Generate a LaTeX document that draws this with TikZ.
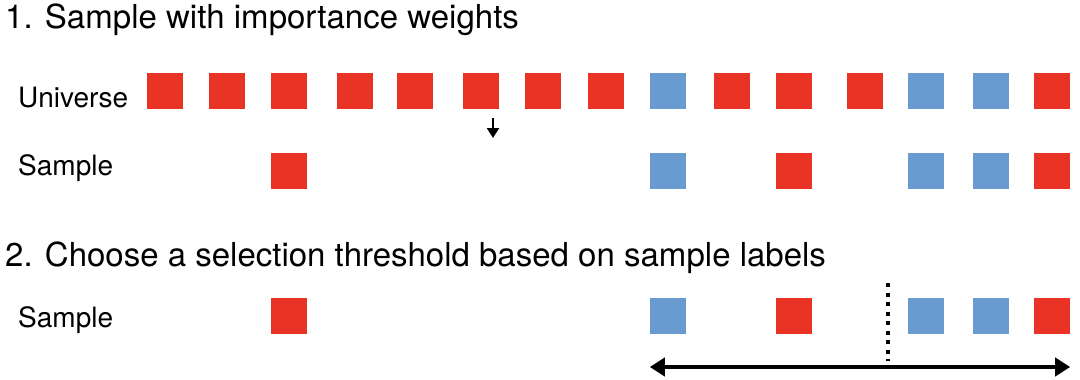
\documentclass[tikz,border=0pt]{standalone}
\usepackage{fontspec}
\setmainfont{TeX Gyre Heros}
\usepackage{xcolor}
\usepackage{tikz}
\usetikzlibrary{arrows.meta,positioning}

\definecolor{boxred}{RGB}{233,51,36}
\definecolor{boxblue}{RGB}{106,155,208}

\begin{document}
\begin{tikzpicture}[x=1pt,y=-1pt,
    box/.style={draw=none,minimum size=36pt,inner sep=0pt},
    heading/.style={anchor=base west,inner sep=0pt,font=\fontsize{33}{40}\selectfont},
    rowname/.style={anchor=base west,inner sep=0pt,font=\fontsize{28}{34}\selectfont}]
    \useasboundingbox (0,0) rectangle (1080,380);

    \node[heading] (step1) at (5,28) {1. Sample with importance weights};
    \node[rowname] (univ) at (18,107) {Universe};
    \node[rowname] (samp) at (18,175) {Sample};
    \node[heading] (step2) at (5,266) {2. Choose a selection threshold based on sample labels};
    \node[rowname] (samp2) at (18,327) {Sample};

    % universe row
    \foreach \x/\c [count=\i] in {165/boxred,227/boxred,289/boxred,355/boxred,415/boxred,
        481/boxred,543/boxred,606/boxred,668/boxblue,732/boxred,794/boxred,865/boxred,
        926/boxblue,991/boxblue,1052/boxred}
        \node[box,fill=\c] (u\i) at (\x,91) {};

    % sampled items, shown twice
    \foreach \x/\c/\i in {289/boxred/3,668/boxblue/9,794/boxred/11,926/boxblue/13,
        991/boxblue/14,1052/boxred/15} {
        \node[box,fill=\c] (s\i) at (\x,170.5) {};
        \node[box,fill=\c] (t\i) at (\x,316) {};
    }

    \coordinate (pick) at (493,118);
    \coordinate (picked) at (493,138);
    \draw[line width=2.2pt,-{Triangle[length=10pt,width=12pt]}] (pick) -- (picked);

    \coordinate (thtop) at (888,283);
    \coordinate (thbot) at (888,361);
    \draw[line width=4pt,dash pattern=on 4pt off 5.5pt] (thtop) -- (thbot);

    \coordinate (lo) at (t9.west |- 0,367);
    \coordinate (hi) at (t15.east |- 0,367);
    \draw[line width=3.8pt,{Triangle[length=15pt,width=18pt]}-{Triangle[length=15pt,width=18pt]}] (lo) -- (hi);

\end{tikzpicture}
\end{document}
